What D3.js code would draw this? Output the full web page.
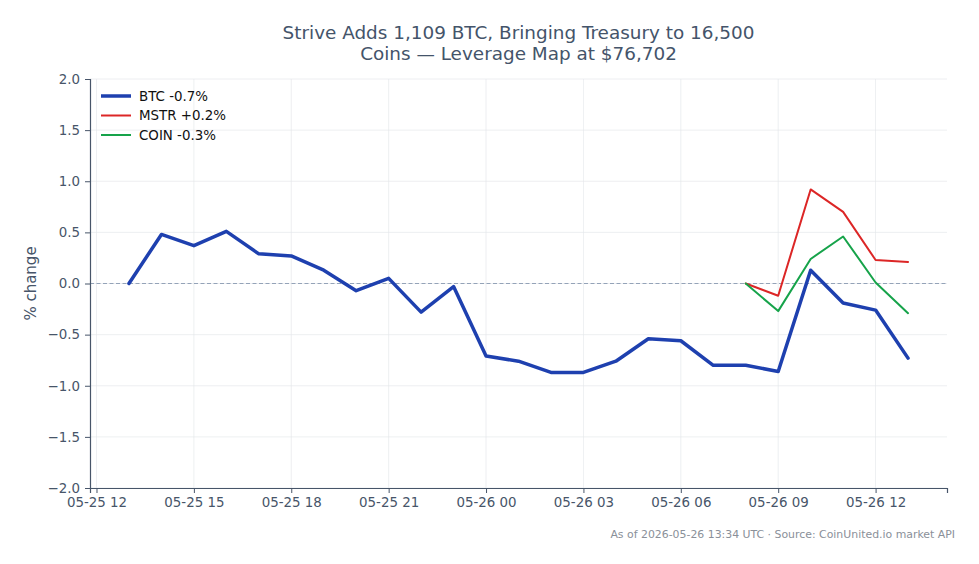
<!DOCTYPE html>
<html>
<head>
<meta charset="utf-8">
<script src="https://cdn.jsdelivr.net/npm/d3@7"></script>
<style>
  body { margin: 0; background: #fff; }
  text { font-family: "DejaVu Sans", sans-serif; }
</style>
</head>
<body>
<svg id="chart" width="979" height="564"></svg>
<script>
// hourly % change vs 05-25 13:00 UTC
const btcTimes = ['2026-05-25T13', '2026-05-25T14', '2026-05-25T15', '2026-05-25T16', '2026-05-25T17',
  '2026-05-25T18', '2026-05-25T19', '2026-05-25T20', '2026-05-25T21', '2026-05-25T22', '2026-05-25T23',
  '2026-05-26T00', '2026-05-26T01', '2026-05-26T02', '2026-05-26T03', '2026-05-26T04', '2026-05-26T05',
  '2026-05-26T06', '2026-05-26T07', '2026-05-26T08', '2026-05-26T09', '2026-05-26T10', '2026-05-26T11',
  '2026-05-26T12', '2026-05-26T13'];
const btcValues = [0.0, 0.48, 0.37, 0.51, 0.29, 0.27, 0.13, -0.07, 0.05, -0.28, -0.03,
  -0.71, -0.76, -0.87, -0.87, -0.76, -0.54, -0.56, -0.80, -0.80, -0.86, 0.13, -0.19, -0.26, -0.73];
const eqTimes = ['2026-05-26T08', '2026-05-26T09', '2026-05-26T10', '2026-05-26T11', '2026-05-26T12', '2026-05-26T13'];
const mstrValues = [0.0, -0.12, 0.92, 0.70, 0.23, 0.21];
const coinValues = [0.0, -0.27, 0.24, 0.46, 0.01, -0.29];
const xTickTimes = ['2026-05-25T12', '2026-05-25T15', '2026-05-25T18', '2026-05-25T21', '2026-05-26T00',
  '2026-05-26T03', '2026-05-26T06', '2026-05-26T09', '2026-05-26T12'];
const yTicks = [-2.0, -1.5, -1.0, -0.5, 0.0, 0.5, 1.0, 1.5, 2.0];
const seriesNames = ['BTC -0.7%', 'MSTR +0.2%', 'COIN -0.3%'];

const parseT = s => new Date(s + ':00:00Z');

const margin = { top: 79, right: 32, bottom: 76, left: 90 };
const W = 979, H = 564;
const width = W - margin.left - margin.right;
const height = H - margin.top - margin.bottom;

const svg = d3.select('#chart');
const g = svg.append('g').attr('transform', `translate(${margin.left},${margin.top})`);

const t0 = parseT(btcTimes[0]), t1 = parseT(btcTimes[btcTimes.length - 1]);
const pad = (t1 - t0) * 0.05;
const x = d3.scaleUtc().domain([new Date(+t0 - pad), new Date(+t1 + pad)]).range([0, width]);
const y = d3.scaleLinear().domain([-2, 2]).range([height, 0]);

const fmtX = d3.utcFormat('%m-%d %H');
const xTicks = xTickTimes.map(parseT);

// grid
g.append('g').selectAll('line').data(xTicks).join('line')
  .attr('x1', d => x(d)).attr('x2', d => x(d)).attr('y1', 0).attr('y2', height)
  .attr('stroke', '#e5e7eb').attr('stroke-width', 0.8).attr('opacity', 0.8);
g.append('g').selectAll('line').data(yTicks).join('line')
  .attr('x1', 0).attr('x2', width).attr('y1', d => y(d)).attr('y2', d => y(d))
  .attr('stroke', '#e5e7eb').attr('stroke-width', 0.8).attr('opacity', 0.8);

// zero line
g.append('line').attr('x1', 0).attr('x2', width).attr('y1', y(0)).attr('y2', y(0))
  .attr('stroke', '#94a3b8').attr('stroke-width', 1).attr('stroke-dasharray', '4,2.5');

// axes
const xAxis = g.append('g').attr('transform', `translate(0,${height})`)
  .call(d3.axisBottom(x).tickValues(xTicks).tickFormat(fmtX).tickSize(5).tickPadding(4));
const yAxis = g.append('g')
  .call(d3.axisLeft(y).tickValues(yTicks).tickFormat(d => d3.format('.1f')(d).replace('-', '\u2212')).tickSize(5).tickPadding(5));
[xAxis, yAxis].forEach(a => {
  a.select('.domain').attr('stroke', '#475569').attr('stroke-width', 1.2);
  a.selectAll('.tick line').attr('stroke', '#475569');
  a.selectAll('.tick text').attr('fill', '#475569').style('font-size', '13.4px')
    .style('font-family', '"DejaVu Sans", sans-serif');
});

// lines
const line = d3.line().x(d => x(d[0])).y(d => y(d[1]));
const btc = btcTimes.map((t, i) => [parseT(t), btcValues[i]]);
const mstr = eqTimes.map((t, i) => [parseT(t), mstrValues[i]]);
const coin = eqTimes.map((t, i) => [parseT(t), coinValues[i]]);
const colors = ['#1e40af', '#dc2626', '#16a34a'];
const widths = [3.5, 2, 2];

[mstr, coin, btc].forEach((d, k) => {
  const i = [1, 2, 0][k];
  g.append('path').datum(d).attr('d', line).attr('fill', 'none')
    .attr('stroke', colors[i]).attr('stroke-width', widths[i])
    .attr('stroke-linejoin', 'round').attr('stroke-linecap', 'round');
});

// legend
const leg = g.append('g').attr('transform', 'translate(11,17)');
seriesNames.forEach((name, i) => {
  const row = leg.append('g').attr('transform', `translate(0,${i * 19.5})`);
  row.append('line').attr('x1', 0).attr('x2', 30).attr('y1', 0).attr('y2', 0)
    .attr('stroke', colors[i]).attr('stroke-width', widths[i]);
  row.append('text').attr('x', 38).attr('y', 0).attr('dy', '0.35em')
    .attr('fill', '#111').style('font-size', '13.4px').text(name);
});

// y label
svg.append('text')
  .attr('transform', `translate(36,${margin.top + height / 2}) rotate(-90)`)
  .attr('text-anchor', 'middle').attr('fill', '#475569').style('font-size', '15px')
  .text('% change');

// title
const title = svg.append('text').attr('text-anchor', 'middle').attr('fill', '#44546a')
  .style('font-size', '18.4px');
title.append('tspan').attr('x', margin.left + width / 2).attr('y', 39)
  .text('Strive Adds 1,109 BTC, Bringing Treasury to 16,500');
title.append('tspan').attr('x', margin.left + width / 2).attr('y', 60)
  .text('Coins \u2014 Leverage Map at $76,702');

// footer
svg.append('text').attr('x', 955).attr('y', 538).attr('text-anchor', 'end')
  .attr('fill', '#8a9099').style('font-size', '10.9px')
  .text('As of 2026-05-26 13:34 UTC \u00b7 Source: CoinUnited.io market API');
</script>
</body>
</html>
